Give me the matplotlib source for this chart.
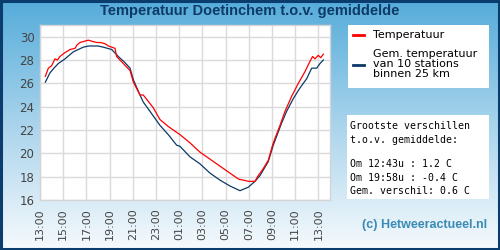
import numpy as np
import matplotlib
matplotlib.use("Agg")
import matplotlib.pyplot as plt
from matplotlib.colors import LinearSegmentedColormap
from matplotlib.patches import Rectangle
from matplotlib.lines import Line2D

# hours after 13:00
red_h = [0.46, 0.72, 1.0, 1.29, 1.5, 1.72, 2.1, 2.59, 3.02, 3.2, 3.45, 3.8, 4.17, 4.5, 4.89, 5.2, 5.6, 5.9,
         6.18, 6.47, 6.6, 7.18, 7.76, 8.05, 8.62, 8.9, 9.3, 9.77, 10.34, 11.06, 11.78, 12.07, 12.93, 13.79,
         14.66, 15.52, 16.38, 17.1, 17.96, 18.53, 18.82, 19.25, 19.68, 20.11, 20.69, 21.12, 21.7, 22.27,
         22.84, 23.28, 23.5, 23.7, 23.99, 24.2, 24.43]
red_t = [26.6, 27.3, 27.5, 28.1, 28.0, 28.3, 28.6, 28.9, 29.0, 29.3, 29.5, 29.6, 29.7, 29.6, 29.5, 29.5, 29.4, 29.2,
         29.1, 29.0, 28.3, 27.7, 27.1, 26.1, 25.0, 25.0, 24.5, 23.9, 22.9, 22.3, 21.8, 21.6, 20.9, 20.1,
         19.5, 18.9, 18.3, 17.8, 17.6, 17.6, 18.1, 18.7, 19.4, 20.9, 22.4, 23.6, 24.9, 26.0,
         27.0, 27.9, 28.3, 28.1, 28.4, 28.2, 28.5]

blue_h = [0.46, 0.86, 1.2, 1.58, 2.16, 2.87, 3.3, 3.73, 4.2, 4.6, 5.0, 5.46, 6.18, 6.75, 7.3, 7.76, 8.05, 8.62,
          8.9, 9.48, 10.34, 11.06, 11.78, 12.07, 12.93, 13.79, 14.66, 15.52, 16.38, 17.24, 17.96, 18.53,
          18.97, 19.68, 20.11, 20.83, 21.26, 21.84, 22.41, 22.99, 23.42, 23.85, 24.14, 24.43]
blue_t = [26.1, 26.9, 27.3, 27.7, 28.1, 28.7, 28.9, 29.1, 29.2, 29.2, 29.2, 29.1, 28.9, 28.3, 27.8, 27.3, 26.3, 25.0,
          24.4, 23.6, 22.4, 21.6, 20.7, 20.6, 19.7, 19.1, 18.3, 17.7, 17.2, 16.8, 17.1, 17.6,
          18.1, 19.3, 20.7, 22.6, 23.6, 24.7, 25.6, 26.4, 27.3, 27.3, 27.7, 28.0]

tick_labels = ["13:00", "15:00", "17:00", "19:00", "21:00", "23:00", "01:00",
               "03:00", "05:00", "07:00", "09:00", "11:00", "13:00"]
y_ticks = [16, 18, 20, 22, 24, 26, 28, 30]

W, H = 500, 250
fig = plt.figure(figsize=(5, 2.5), dpi=100)

# background gradient
bg = fig.add_axes([0, 0, 1, 1])
cmap = LinearSegmentedColormap.from_list("bg", ["#55acda", "#a9d4ec", "#f6fafd"])
grad = np.linspace(0, 1, 256).reshape(-1, 1)
bg.imshow(grad, aspect="auto", cmap=cmap, extent=[0, 1, 1, 0])
bg.set_xlim(0, 1); bg.set_ylim(1, 0)
bg.axis("off")
bg.add_patch(Rectangle((0.002, 0.004), 0.996, 0.992, transform=bg.transAxes,
                       fill=False, edgecolor="#0b3c6e", lw=2.2))

fig.text(250 / W, 1 - 11 / H, "Temperatuur Doetinchem t.o.v. gemiddelde", ha="center", va="center",
         fontsize=10.5, fontweight="bold", color="#0d3a66", family="Liberation Sans")

# main axes: px x 40..330, y 25..200
ax = fig.add_axes([40 / W, 1 - 200 / H, 290 / W, 175 / H])
ax.set_facecolor("white")
ax.plot(blue_h, blue_t, color="#0b3a66", lw=0.9)
ax.plot(red_h, red_t, color="#ff0000", lw=0.9)
ax.set_xlim(0, 25)
ax.set_ylim(16, 31)
ax.set_xticks(range(0, 25, 2))
ax.set_xticklabels(tick_labels, rotation=90, fontsize=8, color="#444444")
ax.set_yticks(y_ticks)
ax.set_yticklabels([str(v) for v in y_ticks], fontsize=8.5, color="#444444")
ax.tick_params(length=0, pad=4)
ax.tick_params(axis="x", pad=6)
ax.grid(True, color="#dadada", lw=1)
ax.set_axisbelow(True)
for s in ax.spines.values():
    s.set_color("#d4d4d4")
    s.set_linewidth(1)

# legend box
fig.patches.append(Rectangle((348 / W, 1 - 88 / H), 141 / W, 63 / H, transform=fig.transFigure,
                             facecolor="white", edgecolor="none"))
fig.lines.append(Line2D([353 / W, 364 / W], [1 - 35 / H, 1 - 35 / H], transform=fig.transFigure,
                        color="#ff0000", lw=2))
fig.lines.append(Line2D([353 / W, 364 / W], [1 - 65 / H, 1 - 65 / H], transform=fig.transFigure,
                        color="#0b3a66", lw=2))
fig.text(373 / W, 1 - 35 / H, "Temperatuur", fontsize=8, va="center", color="black")
fig.text(373 / W, 1 - 64 / H, "Gem. temperatuur\nvan 10 stations\nbinnen 25 km", fontsize=8,
         va="center", color="black", linespacing=1.05)

# info box
fig.patches.append(Rectangle((347 / W, 1 - 199 / H), 142 / W, 84 / H, transform=fig.transFigure,
                             facecolor="white", edgecolor="none"))
info = ["Grootste verschillen", "t.o.v. gemiddelde:", "", "Om 12:43u : 1.2 C",
        "Om 19:58u : -0.4 C", "Gem. verschil: 0.6 C"]
ys = [126, 140, 152, 164, 178, 191]
for t, yy in zip(info, ys):
    fig.text(350 / W, 1 - yy / H, t, fontsize=7.1, family="DejaVu Sans Mono", va="center", color="black")

fig.text(487 / W, 1 - 225 / H, "(c) Hetweeractueel.nl", ha="right", va="center", fontsize=9,
         fontweight="bold", color="#3a8bb4", family="Liberation Sans")

fig.savefig("out.png", dpi=100)
